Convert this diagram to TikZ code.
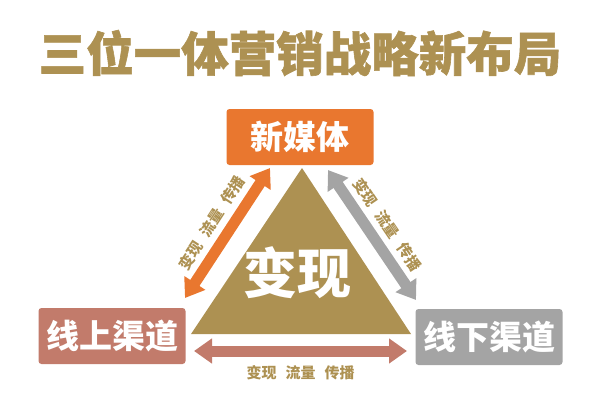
\documentclass[tikz,border=0pt]{standalone}
\usepackage{fontspec}
\newfontfamily\cjk{Noto Sans CJK SC}
\newfontfamily\cjkheavy{Noto Sans CJK SC}[FakeBold=1.2]
\usepackage{tikz}
\usetikzlibrary{arrows.meta}
\usetikzlibrary{positioning}
\definecolor{gold}{HTML}{AD9152}
\definecolor{mediaorange}{HTML}{E9772F}
\definecolor{onlinerose}{HTML}{C27B6B}
\definecolor{offlinegray}{HTML}{A4A4A4}
\newcommand{\flowtext}{变现\hspace{9pt}流量\hspace{9pt}传播}
\tikzset{
  channel/.style={
    rectangle,
    rounded corners=3pt,
    fill=#1,
    text=white,
    minimum width=147pt,
    minimum height=56pt,
    inner sep=2pt,
    text centered,
    font=\cjk\bfseries\fontsize{33}{33}\selectfont,
  },
  flow/.style={
    draw=#1,
    line width=11pt,
    {Triangle[width=24pt,length=18pt]}-{Triangle[width=24pt,length=18pt]},
  },
  tag/.style={
    text=gold,
    inner sep=1pt,
    font=\cjk\bfseries\fontsize{15}{15}\selectfont,
  },
}

\begin{document}
\begin{tikzpicture}[x=1pt,y=-1pt]
  \useasboundingbox (0,0) rectangle (600,400);
  \node[text=gold, font=\cjkheavy\bfseries\fontsize{47.5}{47.5}\selectfont] (title) at (300,53)
    {三位一体营销战略新布局};

  % triangle in the middle
  \fill[gold] (302,168) -- (191,334) -- (411,334) -- cycle;
  \node[text=white, font=\cjk\bfseries\fontsize{54}{54}\selectfont] (core) at (297,273) {变现};

  % the three channels
  \node[channel=mediaorange] (media) at (300,137) {新媒体};
  \node[channel=onlinerose] (online) at (112,336) {线上渠道};
  \node[channel=offlinegray] (offline) at (489,337) {线下渠道};

  % arrow ends
  \coordinate (L1) at (185,298);
  \coordinate (L2) at (270,168);
  \coordinate (R1) at (328,170);
  \coordinate (R2) at (416,300);
  \coordinate (B1) at (194,351);
  \coordinate (B2) at (407,351);

  \draw[flow=mediaorange] (L1) -- node[tag, sloped, above=5pt] {\flowtext} (L2);
  \draw[flow=offlinegray] (R1) -- node[tag, sloped, above=5pt] {\flowtext} (R2);
  \draw[flow=onlinerose] (B1) -- node[tag, below=8pt] {\flowtext} (B2);
\end{tikzpicture}
\end{document}
